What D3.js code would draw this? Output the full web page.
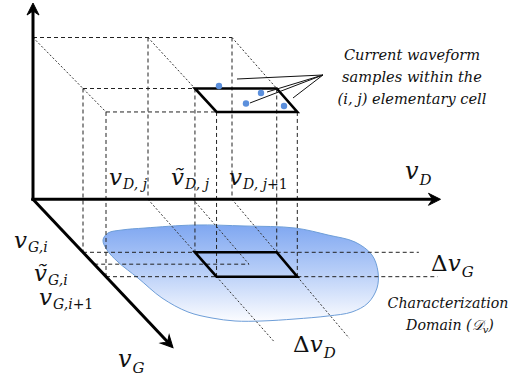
<!DOCTYPE html>
<html>
<head>
<meta charset="utf-8">
<script src="https://cdn.jsdelivr.net/npm/d3@7"></script>
<style>
  html, body { margin: 0; padding: 0; background: #ffffff; }
  svg { display: block; }
  text { font-family: "DejaVu Serif", serif; font-style: italic; fill: #111; }
</style>
</head>
<body>
<svg id="chart" width="527" height="382"></svg>
<script>
// ---- grid levels of the elementary cell ----
// v_D,j ; ṽ_D,j ; v_D,j+1
const vDGrid = [2.3, 3.2, 3.98];
// v_G,i ; ṽ_G,i ; v_G,i+1
const vGGrid = [1.0, 1.224, 1.46];
// current level of the upper plane (normalised)
const iPlane = 1;
// axis extents
const vDMax = 8.15, vGMax = 2.8, iMax = 1.213;
// current waveform samples inside cell (i,j): [v_D, v_G, I]
const samples = [
  [2.84, 0.951, 1],
  [3.575, 1.088, 1],
  [3.071, 1.294, 1],
  [3.813, 1.343, 1]
];
// annotation leader lines, on the upper plane [v_D, v_G]
const leaderAnchor = [5.165, 0.735];
const leaderEnds = [[3.338, 0.814], [3.717, 1.069], [3.163, 1.284], [4.144, 1.186]];
// how far the ground lines run out (v_D for the horizontals, v_G for the diagonals)
const groundRunVD = 6.9;
const groundRunVG = [2.7, 2.62];
// outline of the characterization domain on the (v_D, v_G) plane
const domainOutline = [
  [0.645, 0.768], [0.879, 0.636], [1.220, 0.579], [1.723, 0.542], [2.791, 0.485],
  [3.787, 0.504], [4.767, 0.542], [5.321, 0.674], [5.757, 0.806], [5.893, 1.051],
  [5.737, 1.372], [5.448, 1.674], [5.002, 1.957], [4.508, 2.126], [3.927, 2.202],
  [3.172, 2.258], [2.432, 2.296], [1.857, 2.296], [1.425, 2.240], [1.032, 2.126],
  [0.755, 1.862], [0.640, 1.485], [0.534, 1.183], [0.537, 0.957]
];
// text
const captionLines = ["Current waveform", "samples within the", "(i, j) elementary cell"];
const domainLines = ["Characterization", "Domain ("];

const svg = d3.select("#chart");

// ---- oblique projection of (v_D, v_G, I) ----
const xD = d3.scaleLinear().domain([0, 1]).range([33, 83]);
const yI = d3.scaleLinear().domain([0, iPlane]).range([199.3, 37.5]);
const depthX = d3.scaleLinear().domain([0, 1]).range([0, 50]);
function project(vD, vG, I) {
  const bx = xD(vD);
  const persp = 1 - 0.00053 * (bx - xD(0));
  const x = bx + depthX(vG) * persp;
  const y = yI(I) + vG * (51 + 2 * (1 - I / iPlane));
  return [x, y];
}

const [dj, dm, dj1] = vDGrid;
const [gi, gm, gi1] = vGGrid;

// ---- gradient for the domain ----
const defs = svg.append("defs");
const grad = defs.append("linearGradient")
  .attr("id", "domainFill")
  .attr("gradientUnits", "userSpaceOnUse")
  .attr("x1", 0).attr("x2", 0)
  .attr("y1", project(0, 0.48, 0)[1]).attr("y2", project(0, 2.3, 0)[1]);
grad.append("stop").attr("offset", 0).attr("stop-color", "#7fa7f1");
grad.append("stop").attr("offset", 0.45).attr("stop-color", "#b3cbf7");
grad.append("stop").attr("offset", 1).attr("stop-color", "#fbfcff");

const line = d3.line();
svg.append("path")
  .attr("d", d3.line().curve(d3.curveCatmullRomClosed.alpha(0.5))(domainOutline.map(p => project(p[0], p[1], 0))))
  .attr("fill", "url(#domainFill)")
  .attr("stroke", "#6e9ed8")
  .attr("stroke-width", 1);

// ---- construction lines ----
const dashed = svg.append("g").attr("stroke", "#222").attr("stroke-width", 1)
  .attr("stroke-dasharray", "4,3").attr("fill", "none");
const dotted = svg.append("g").attr("stroke", "#333").attr("stroke-width", 1)
  .attr("stroke-dasharray", "2,2").attr("fill", "none");

function seg(g, a, b) {
  g.append("path").attr("d", line([project(...a), project(...b)]));
}

// upper plane: back edge and depth edges
seg(dashed, [0, 0, iPlane], [dj1, 0, iPlane]);
seg(dotted, [0, 0, iPlane], [0, gi1, iPlane]);
seg(dotted, [dj, 0, iPlane], [dj, gi, iPlane]);
seg(dotted, [dj1, 0, iPlane], [dj1, gi, iPlane]);
// upper plane: rows v_G,i and v_G,i+1 up to the cell
seg(dashed, [0, gi, iPlane], [dj, gi, iPlane]);
seg(dashed, [0, gi1, iPlane], [dj, gi1, iPlane]);

// verticals down to the ground
[[0, gi], [0, gi1], [dj, 0], [dj1, 0], [dj, gi], [dj, gi1], [dj1, gi], [dj1, gi1]]
  .forEach(([d, g]) => seg(dashed, [d, g, iPlane], [d, g, 0]));

// ground plane rows
seg(dashed, [0, gi, 0], [dj, gi, 0]);
seg(dashed, [dj1, gi, 0], [groundRunVD, gi, 0]);
seg(dashed, [0, gm, 0], [dm, gm, 0]);
seg(dashed, [0, gi1, 0], [dj, gi1, 0]);
seg(dashed, [dj1, gi1, 0], [groundRunVD, gi1, 0]);
// ground plane depth lines
seg(dotted, [dj, 0, 0], [dj, gi, 0]);
seg(dotted, [dj, gi1, 0], [dj, groundRunVG[0], 0]);
seg(dotted, [dm, 0, 0], [dm, gm, 0]);
seg(dotted, [dj1, 0, 0], [dj1, gi, 0]);
seg(dotted, [dj1, gi1, 0], [dj1, groundRunVG[1], 0]);

// ---- cells (upper plane and ground) ----
const cellPts = [[dj, gi], [dj1, gi], [dj1, gi1], [dj, gi1]];
[iPlane, 0].forEach(I => {
  svg.append("path")
    .attr("d", line(cellPts.map(([d, g]) => project(d, g, I))) + "Z")
    .attr("fill", "none").attr("stroke", "#000").attr("stroke-width", 2.6)
    .attr("stroke-linejoin", "miter");
});

// ---- axes ----
function axis(from, to) {
  const [x0, y0] = project(...from), [x1, y1] = project(...to);
  const ang = Math.atan2(y1 - y0, x1 - x0) * 180 / Math.PI;
  const len = Math.hypot(x1 - x0, y1 - y0);
  const g = svg.append("g").attr("transform", `translate(${x0},${y0}) rotate(${ang})`);
  g.append("line").attr("x1", -1.5).attr("y1", 0).attr("x2", len - 6).attr("y2", 0)
    .attr("stroke", "#000").attr("stroke-width", 3);
  g.append("path").attr("d", `M${len},0 L${len - 12},-6 L${len - 8},0 L${len - 12},6 Z`)
    .attr("fill", "#000").attr("stroke", "#000").attr("stroke-width", 1).attr("stroke-linejoin", "miter");
}
axis([0, 0, 0], [0, 0, iMax]);
axis([0, 0, 0], [vDMax, 0, 0]);
axis([0, 0, 0], [0, vGMax, 0]);

// ---- samples and annotation ----
const [ax, ay] = project(leaderAnchor[0], leaderAnchor[1], iPlane);
svg.append("g").selectAll("line").data(leaderEnds).join("line")
  .attr("x1", ax).attr("y1", ay)
  .attr("x2", d => project(d[0], d[1], iPlane)[0])
  .attr("y2", d => project(d[0], d[1], iPlane)[1])
  .attr("stroke", "#111").attr("stroke-width", 1);

svg.append("g").selectAll("circle").data(samples).join("circle")
  .attr("cx", d => project(...d)[0])
  .attr("cy", d => project(...d)[1])
  .attr("r", 3.2)
  .attr("fill", "#5b8fdc");

svg.append("g").selectAll("text").data(captionLines).join("text")
  .attr("x", 412).attr("y", (d, i) => 60 + i * 22)
  .attr("text-anchor", "middle").attr("font-size", 14.6)
  .text(d => d);

// ---- math labels: main symbol with subscript ----
function mathLabel(x, y, main, sub, size, subSize, subDy, subDx) {
  const t = svg.append("text").attr("x", x).attr("y", y);
  main.split("|").forEach(p => {
    const ts = t.append("tspan").attr("font-size", size).text(p);
    if (p === "Δ") ts.attr("font-style", "normal");
  });
  const s = t.append("tspan").attr("font-size", subSize).attr("dy", subDy).attr("dx", subDx || 0);
  sub.forEach(([txt, upright]) => {
    const ts = s.append("tspan").text(txt);
    if (upright) ts.attr("font-style", "normal");
  });
  return t;
}

mathLabel(405, 179, "v", [["D"]], 24, 15, 6, 1);
mathLabel(118, 367, "v", [["G"]], 24, 15, 6, 1);

mathLabel(109, 185, "v", [["D, j"]], 23, 14, 4, 1);
mathLabel(171, 185, "ṽ", [["D, j"]], 23, 14, 4, 1);
mathLabel(229, 185, "v", [["D, j"], ["+1", true]], 23, 14, 4, 1);

mathLabel(14, 248, "v", [["G,i"]], 23, 14, 4, 1);
mathLabel(34, 281, "ṽ", [["G,i"]], 23, 14, 4, 1);
mathLabel(39, 305, "v", [["G,i"], ["+1", true]], 23, 14, 4, 1);

mathLabel(431, 271, "Δ|v", [["G"]], 23, 15, 6, 1);
mathLabel(293, 352, "Δ|v", [["D"]], 23, 15, 6, 1);

// domain caption
svg.append("text").attr("x", 448).attr("y", 308).attr("text-anchor", "middle")
  .attr("font-size", 14.2).text(domainLines[0]);
const dl = svg.append("text").attr("x", 450).attr("y", 330).attr("text-anchor", "middle")
  .attr("font-size", 14.2);
dl.append("tspan").text(domainLines[1]);
dl.append("tspan").text("𝒟");
dl.append("tspan").attr("font-size", 10).attr("dy", 3).text("v");
dl.append("tspan").attr("dy", -3).text(")");
</script>
</body>
</html>
